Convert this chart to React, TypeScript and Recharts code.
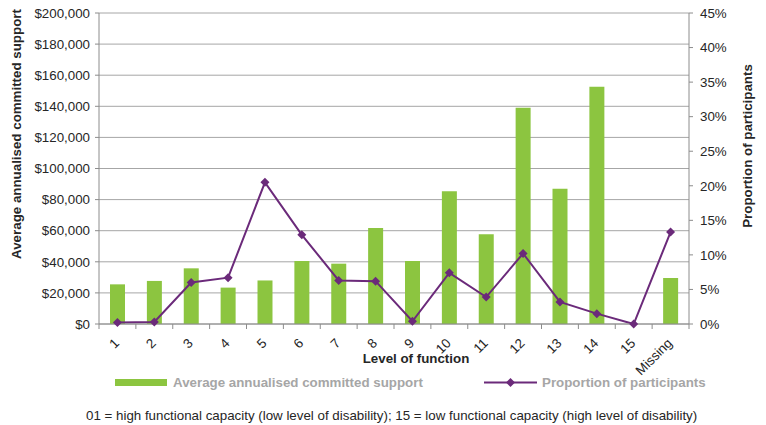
import { Bar, CartesianGrid, ComposedChart, Line, XAxis, YAxis } from "recharts";

const levels = ["1", "2", "3", "4", "5", "6", "7", "8", "9", "10", "11", "12", "13", "14", "15", "Missing"];
const avgSupport = [25500, 27700, 35800, 23400, 28000, 40500, 38800, 61700, 40500, 85300, 57700, 139100, 87000, 152600, 0, 29600];
const proportion = [0.2, 0.3, 6.0, 6.7, 20.5, 12.9, 6.3, 6.2, 0.4, 7.4, 3.9, 10.2, 3.2, 1.5, 0, 13.3];
const supportTicks = [0, 20000, 40000, 60000, 80000, 100000, 120000, 140000, 160000, 180000, 200000];
const proportionTicks = [0, 5, 10, 15, 20, 25, 30, 35, 40, 45];

const data = levels.map((level, i) => ({
  level,
  support: avgSupport[i],
  proportion: proportion[i],
}));

const FONT = "'Liberation Sans', Arial, sans-serif";
const FS = 13.33;
const GREEN = "#8CC540";
const PURPLE = "#6B2A7A";
const GRID = "#A6A6A6";
const AXIS = "#8C8C8C";
const TEXT = "#262626";

const W = 766;
const H = 425;
const PLOT_LEFT = 99;
const PLOT_RIGHT = 689;
const band = (PLOT_RIGHT - PLOT_LEFT) / levels.length;

const money = (v: number) => "$" + v.toLocaleString("en-US");

function LevelTick(props: any) {
  const { x, y, payload, index } = props;
  const last = index === levels.length - 1;
  return (
    <g>
      <line x1={x - band / 2} x2={x - band / 2} y1={y} y2={y + 5} stroke={AXIS} />
      {last && <line x1={x + band / 2} x2={x + band / 2} y1={y} y2={y + 5} stroke={AXIS} />}
      <g transform={`translate(${x + 2.5},${y + 20}) rotate(-45)`}>
        <text x={0} y={0} textAnchor="end" fill={TEXT} fontSize={FS} fontFamily={FONT}>
          {payload.value}
        </text>
      </g>
    </g>
  );
}

function Diamond(props: any) {
  const { cx, cy } = props;
  if (cx == null || cy == null) return null;
  const r = 4.5;
  return <path d={`M${cx},${cy - r}L${cx + r},${cy}L${cx},${cy + r}L${cx - r},${cy}Z`} fill={PURPLE} />;
}

export default function App() {
  return (
    <div style={{ position: "absolute", left: 0, top: 0, width: W, height: H, background: "#fff" }}>
      <ComposedChart width={W} height={H} data={data} margin={{ top: 13, right: 0, bottom: 0, left: 0 }}>
        <CartesianGrid yAxisId="left" vertical={false} stroke={GRID} />
        <XAxis
          dataKey="level"
          height={101}
          tickLine={false}
          tickSize={0}
          tickMargin={0}
          interval={0}
          axisLine={{ stroke: AXIS }}
          tick={<LevelTick />}
        />
        <YAxis
          yAxisId="left"
          width={99}
          domain={[0, 200000]}
          ticks={supportTicks}
          tickFormatter={money}
          tickSize={4}
          tickMargin={5}
          tickLine={{ stroke: AXIS }}
          axisLine={{ stroke: AXIS }}
          tick={{ fill: TEXT, fontSize: FS, fontFamily: FONT }}
        />
        <YAxis
          yAxisId="right"
          orientation="right"
          width={77}
          domain={[0, 45]}
          ticks={proportionTicks}
          tickFormatter={(v: number) => `${v}%`}
          tickSize={4}
          tickMargin={7}
          tickLine={{ stroke: AXIS }}
          axisLine={{ stroke: AXIS }}
          tick={{ fill: TEXT, fontSize: FS, fontFamily: FONT, textAnchor: "start" }}
        />
        <Bar yAxisId="left" dataKey="support" fill={GREEN} barSize={15} isAnimationActive={false} />
        <Line
          yAxisId="right"
          dataKey="proportion"
          stroke={PURPLE}
          strokeWidth={2}
          dot={<Diamond />}
          activeDot={false}
          isAnimationActive={false}
        />
      </ComposedChart>
      <svg
        width={W}
        height={H}
        style={{ position: "absolute", left: 0, top: 0, pointerEvents: "none" }}
        fontFamily={FONT}
      >
        <text
          transform="translate(16,134) rotate(-90)"
          dy="0.35em"
          textAnchor="middle"
          fontSize={FS}
          fontWeight="bold"
          fill={TEXT}
        >
          Average annualised committed support
        </text>
        <text
          transform="translate(747,146) rotate(-90)"
          dy="0.35em"
          textAnchor="middle"
          fontSize={FS}
          fontWeight="bold"
          fill={TEXT}
        >
          Proportion of participants
        </text>
        <text x={416} y={358} dy="0.35em" textAnchor="middle" fontSize={FS} fontWeight="bold" fill={TEXT}>
          Level of function
        </text>
        <rect x={115} y={379} width={52} height={7} fill={GREEN} />
        <text x={173} y={382.5} dy="0.35em" fontSize={FS} fontWeight="bold" fill="#A6A6A6">
          Average annualised committed support
        </text>
        <line x1={484} x2={537} y1={382.5} y2={382.5} stroke={PURPLE} strokeWidth={2} />
        <Diamond cx={510.5} cy={382.5} />
        <text x={542} y={382.5} dy="0.35em" fontSize={FS} fontWeight="bold" fill="#A6A6A6">
          Proportion of participants
        </text>
        <text x={86} y={415} dy="0.35em" fontSize={FS} fill={TEXT}>
          01 = high functional capacity (low level of disability); 15 = low functional capacity (high level of disability)
        </text>
      </svg>
    </div>
  );
}
